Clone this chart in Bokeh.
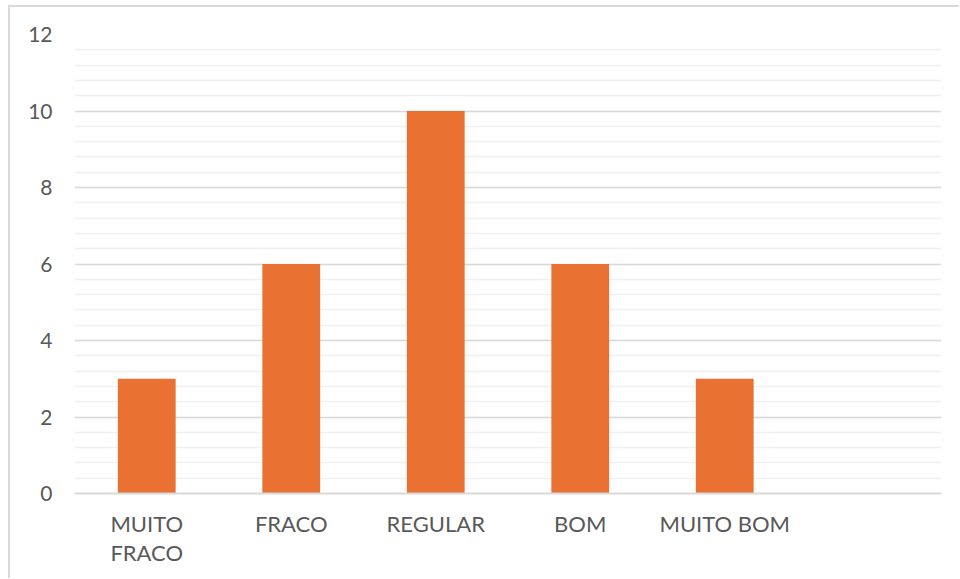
from bokeh.plotting import figure
from bokeh.models import SingleIntervalTicker, FixedTicker, Range1d
from bokeh.embed import file_html
from bokeh.resources import INLINE

categories = ["MUITO\nFRACO", "FRACO", "REGULAR", "BOM", "MUITO BOM"]
values = [3, 6, 10, 6, 3]
n_slots = 6  # one empty slot at the right, as in the reference

xs = list(range(len(categories)))

p = figure(width=951, height=573, output_backend="svg", toolbar_location=None,
           x_range=Range1d(-0.5, n_slots - 0.5), y_range=Range1d(0, 12),
           min_border_left=64, min_border_right=20, min_border_top=27,
           min_border_bottom=87)
p.styles = {"border-left": "2px solid #d9d9d9", "border-top": "2px solid #d9d9d9",
            "margin-left": "8px", "margin-top": "5px"}
p.outline_line_color = None

p.vbar(x=xs, top=values, width=0.4, fill_color="#E97132", line_color=None)

font = "Lato"
p.yaxis.ticker = SingleIntervalTicker(interval=2, num_minor_ticks=5)
p.yaxis.axis_line_color = None
p.yaxis.major_tick_line_color = None
p.yaxis.minor_tick_line_color = None
p.yaxis.major_tick_out = 0
p.yaxis.minor_tick_out = 0
p.yaxis.major_label_text_font = font
p.yaxis.major_label_text_font_size = "21px"
p.yaxis.major_label_text_color = "#595959"
p.yaxis.major_label_standoff = 22

p.xaxis.ticker = FixedTicker(ticks=xs)
p.xaxis.major_label_overrides = {i: c for i, c in enumerate(categories)}
p.xaxis.axis_line_color = "#d9d9d9"
p.xaxis.axis_line_width = 2
p.xaxis.major_tick_line_color = None
p.xaxis.minor_tick_line_color = None
p.xaxis.major_tick_out = 0
p.xaxis.minor_tick_out = 0
p.xaxis.major_label_text_font = font
p.xaxis.major_label_text_font_size = "22px"
p.xaxis.major_label_text_color = "#595959"
p.xaxis.major_label_text_line_height = 1.1
p.xaxis.major_label_standoff = 16

p.xgrid.grid_line_color = None
p.ygrid.grid_line_color = "#d9d9d9"
p.ygrid.grid_line_width = 1.5
p.ygrid.minor_grid_line_color = "#f0f0f0"
p.ygrid.minor_grid_line_width = 1.5

open("out.html", "w").write(file_html(p, INLINE))
